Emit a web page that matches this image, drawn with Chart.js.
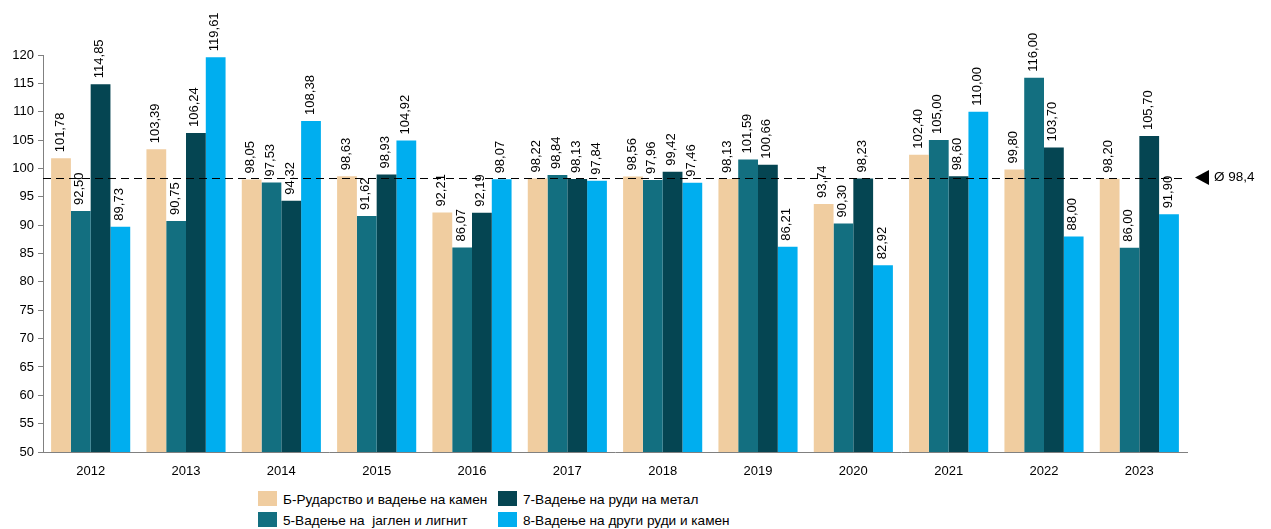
<!DOCTYPE html>
<html><head><meta charset="utf-8">
<script src="https://cdn.jsdelivr.net/npm/chart.js@4.4.0/dist/chart.umd.min.js"></script>
<style>
html,body{margin:0;padding:0;background:#fff;}
#wrap{position:relative;width:1271px;height:529px;font-family:"Liberation Sans",Arial,sans-serif;}
#c{position:absolute;left:0;top:0;}
.lg{position:absolute;font-size:13.6px;color:#000;white-space:pre;line-height:16px;}
.sw{position:absolute;width:19px;height:15px;}
</style></head>
<body>
<div id="wrap">
<canvas id="c" width="1271" height="480"></canvas>
<div class="sw" style="left:258px;top:491px;background:#F0CDA0"></div><div class="lg" style="left:283px;top:492px">Б-Рударство и вадење на камен</div>
<div class="sw" style="left:258px;top:512px;background:#136F80"></div><div class="lg" style="left:283px;top:513px">5-Вадење на  јаглен и лигнит</div>
<div class="sw" style="left:498px;top:491px;background:#054552"></div><div class="lg" style="left:523px;top:492px">7-Вадење на руди на метал</div>
<div class="sw" style="left:498px;top:512px;background:#00AEEF"></div><div class="lg" style="left:523px;top:513px">8-Вадење на други руди и камен</div>
</div>
<script>
const years = ["2012","2013","2014","2015","2016","2017","2018","2019","2020","2021","2022","2023"];
const seriesNames = ["Б-Рударство и вадење на камен","5-Вадење на  јаглен и лигнит","7-Вадење на руди на метал","8-Вадење на други руди и камен"];
const mining   = [101.78,103.39,98.05,98.63,92.21,98.22,98.56,98.13,93.74,102.40,99.80,98.20];
const coal     = [92.50,90.75,97.53,91.62,86.07,98.84,97.96,101.59,90.30,105.00,116.00,86.00];
const metal    = [114.85,106.24,94.32,98.93,92.19,98.13,99.42,100.66,98.23,98.60,103.70,105.70];
const other    = [89.73,119.61,108.38,104.92,98.07,97.84,97.46,86.21,82.92,110.00,88.00,91.90];
const average  = 98.4;
const yMin = 50, yMax = 120, yStep = 5;
const colors = ["#F0CDA0","#136F80","#054552","#00AEEF"];
const FONT = '"Liberation Sans", Arial, sans-serif';

const overlay = {
  id:'overlay',
  afterDatasetsDraw(chart){
    const ctx = chart.ctx;
    const ca = chart.chartArea;
    const y = chart.scales.y.getPixelForValue(average);
    ctx.save();
    ctx.strokeStyle = '#000'; ctx.lineWidth = 1; ctx.setLineDash([8,5]);
    ctx.beginPath(); ctx.moveTo(ca.left, Math.round(y)+0.5); ctx.lineTo(ca.right, Math.round(y)+0.5); ctx.stroke();
    ctx.setLineDash([]);
    ctx.fillStyle = '#000';
    ctx.beginPath(); ctx.moveTo(ca.right+8, y); ctx.lineTo(ca.right+22, y-7.5); ctx.lineTo(ca.right+22, y+7.5); ctx.closePath(); ctx.fill();
    ctx.font = '13.5px ' + FONT; ctx.textBaseline = 'middle'; ctx.textAlign='left';
    ctx.fillText('Ø ' + String(average).replace('.', ','), ca.right+27, y);
    ctx.font = '13px ' + FONT;
    chart.data.datasets.forEach((ds, di) => {
      const meta = chart.getDatasetMeta(di);
      meta.data.forEach((bar, i) => {
        const v = ds.data[i];
        const txt = v.toFixed(2).replace('.', ',');
        ctx.save();
        ctx.translate(bar.x - 1, bar.y - 6);
        ctx.rotate(-Math.PI/2);
        ctx.textAlign = 'left'; ctx.textBaseline = 'middle';
        ctx.fillStyle = '#000';
        ctx.fillText(txt, 0, 0);
        ctx.restore();
      });
    });
    ctx.restore();
  }
};

new Chart(document.getElementById('c'), {
  type:'bar',
  data:{
    labels: years,
    datasets: [mining, coal, metal, other].map((d, i) => ({
      label: seriesNames[i], data: d, backgroundColor: colors[i],
      borderWidth: 0, barPercentage: 1.0, categoryPercentage: 0.83
    }))
  },
  options:{
    responsive:false, animation:false,
    layout:{padding:{top:55, right:84, left:0, bottom:0}},
    plugins:{legend:{display:false}, tooltip:{enabled:false}},
    scales:{
      x:{
        grid:{display:false},
        border:{display:true, color:'#808080', width:1},
        ticks:{color:'#000', font:{family:FONT, size:13}, padding:4},
        afterFit(s){ s.height = 28; }
      },
      y:{
        min:yMin, max:yMax,
        grid:{drawOnChartArea:false, drawTicks:true, tickLength:5, color:'#808080'},
        border:{display:true, color:'#808080', width:1},
        ticks:{stepSize:yStep, color:'#000', font:{family:FONT, size:13}, padding:4},
        afterFit(s){ s.width = 43; }
      }
    }
  },
  plugins:[overlay]
});
</script>
</body></html>
